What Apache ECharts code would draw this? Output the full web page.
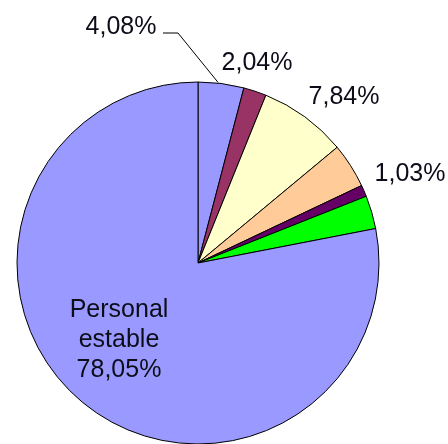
<!DOCTYPE html>
<html>
<head>
<meta charset="utf-8">
<script src="https://cdn.jsdelivr.net/npm/echarts@6/dist/echarts.min.js"></script>
<style>html,body{margin:0;padding:0;background:#fff}#c{width:448px;height:444px}</style>
</head>
<body>
<div id="c"></div>
<script>
// Data
const categories = ['Categoría 1', 'Categoría 2', 'Categoría 3', 'Categoría 4', 'Categoría 5', 'Categoría 6', 'Personal estable'];
const values = [4.08, 2.04, 7.84, 4.00, 1.03, 2.96, 78.05];
const showLabel = [true, true, true, false, true, false, true];
const colors = ['#9999FF', '#993366', '#FFFFCC', '#FFCC99', '#660066', '#00FF00', '#9999FF'];

// Label layout (positions of label text, not of marks)
const labelPos = [[121, 27], [257, 63], [344, 97], null, [410, 174], null, [119, 340]];

function fmt(v) { return v.toFixed(2).replace('.', ',') + '%'; }

const data = categories.map((name, i) => ({
  name: name,
  value: values[i],
  itemStyle: { color: colors[i] },
  label: {
    show: showLabel[i],
    position: i === 6 ? 'inside' : 'outside',
    formatter: i === 6 ? (name.replace(' ', '\n') + '\n' + fmt(values[i])) : fmt(values[i])
  },
  labelLine: { show: i === 0 }
}));

const chart = echarts.init(document.getElementById('c'), null, { renderer: 'canvas' });
chart.setOption({
  animation: false,
  backgroundColor: '#fff',
  series: [{
    type: 'pie',
    center: [198, 263],
    radius: 181,
    startAngle: 90,
    clockwise: true,
    avoidLabelOverlap: false,
    itemStyle: { borderColor: '#000', borderWidth: 1 },
    label: {
      fontFamily: 'Liberation Sans, Arial, sans-serif',
      fontSize: 25,
      color: '#0d0d1a',
      lineHeight: 30,
      align: 'center'
    },
    labelLine: { lineStyle: { color: '#000', width: 1 }, length: 10, length2: 10 },
    emphasis: { disabled: true },
    labelLayout: function (params) {
      const p = labelPos[params.dataIndex];
      if (!p) return {};
      const res = { x: p[0], y: p[1], align: 'center', verticalAlign: 'middle' };
      if (params.dataIndex === 0) {
        const start = params.labelLinePoints ? params.labelLinePoints[0] : [217, 82];
        res.labelLinePoints = [[start[0] - 3, start[1] - 1], [178, 33], [163, 33]];
      }
      return res;
    },
    data: data
  }]
});
</script>
</body>
</html>
